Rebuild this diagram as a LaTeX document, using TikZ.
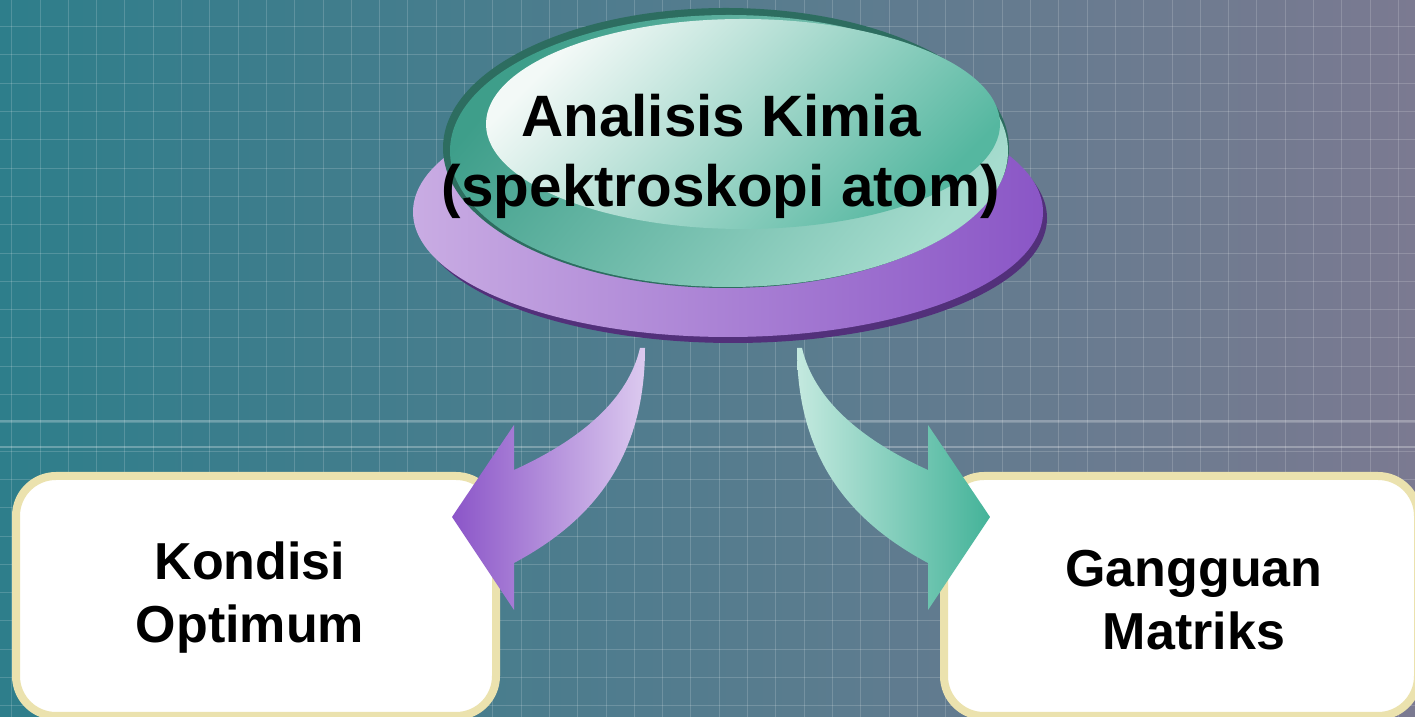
\documentclass[tikz,border=0pt]{standalone}
\usepackage{fontspec}
\setmainfont{Liberation Sans}
\definecolor{bgL}{HTML}{2E7E8B}
\definecolor{bgR}{HTML}{7B7A91}
\definecolor{beige}{HTML}{EBE2AE}
\definecolor{purL}{HTML}{C9ACE3}
\definecolor{purR}{HTML}{8A56C6}
\definecolor{purD}{HTML}{52307A}
\definecolor{tealD}{HTML}{2D6D60}
\definecolor{tealM}{HTML}{3E9E8A}
\definecolor{tealL}{HTML}{A6DCCE}
\definecolor{hiW}{HTML}{F3F9F7}
\definecolor{hiT}{HTML}{55B7A0}
\definecolor{arrPL}{HTML}{8B55C8}
\definecolor{arrPR}{HTML}{DCCAEF}
\definecolor{arrTL}{HTML}{C4E9DF}
\definecolor{arrTR}{HTML}{44B399}
\tikzset{
  gridline/.style={white, opacity=0.17, line width=0.5pt},
  brightline/.style={white, opacity=0.28, line width=1pt},
  boxnode/.style={draw=beige, fill=white, line width=4pt, rounded corners=20pt,
    rectangle, inner sep=0pt, minimum height=120pt},
  titletext/.style={font=\bfseries\fontsize{29.2pt}{35pt}\selectfont, align=center, anchor=base, inner sep=0pt},
  boxtext/.style={font=\bfseries\fontsize{26pt}{31.5pt}\selectfont, align=center, anchor=base, inner sep=0pt},
}
\begin{document}
\begin{tikzpicture}[x=0.5pt,y=0.5pt]
\useasboundingbox (0,0) rectangle (1415,717);
\begin{scope}
\clip (0,0) rectangle (1415,717);
% background
\shade[left color=bgL, right color=bgR] (0,0) rectangle (1415,717);
\foreach \i in {0,...,49} \draw[gridline] ({11.7+28.3*\i},0) -- ({11.7+28.3*\i},717);
\foreach \j in {0,...,25} \draw[gridline] (0,{690.3-28.3*\j}) -- (1415,{690.3-28.3*\j});
\draw[brightline] (0,296) -- (1415,296);
\draw[brightline] (0,270) -- (1415,270);
% boxes
\node[boxnode, minimum width=240pt] (kbox) at (256,121) {};
\node[boxnode, minimum width=237pt] (gbox) at (1181,121) {};
% arrows
\shade[left color=arrPL, right color=arrPR]
  (640,369) .. controls (628,317) and (580,277) .. (514,247)
  -- (514,292) -- (452,200) -- (514,107) -- (514,154)
  .. controls (585,192) and (645,252) .. (645,369) -- cycle;
\shade[left color=arrTL, right color=arrTR]
  (802,369) .. controls (814,317) and (862,277) .. (928,247)
  -- (928,292) -- (990,200) -- (928,107) -- (928,154)
  .. controls (857,192) and (797,252) .. (797,369) -- cycle;
% base ellipse
\fill[purD] (733,499) ellipse [x radius=314, y radius=125];
\shade[left color=purL, right color=purR] (728,505) ellipse [x radius=315, y radius=125];
% top ellipse
\fill[tealD] (726,569) ellipse [x radius=283, y radius=140];
\shade[top color=tealM, bottom color=tealL, shading angle=50] (729,566) ellipse [x radius=279, y radius=136];
\shade[top color=hiW, bottom color=hiT, shading angle=45] (743,593) ellipse [x radius=257, y radius=105];
\end{scope}
% texts
\node[titletext] (title) at (721,510) {Analisis Kimia\\(spektroskopi atom)};
\node[boxtext] (ktext) at (250,74) {Kondisi\\Optimum};
\node[boxtext] (gtext) at (1194,67) {Gangguan\\Matriks};
\end{tikzpicture}
\end{document}
